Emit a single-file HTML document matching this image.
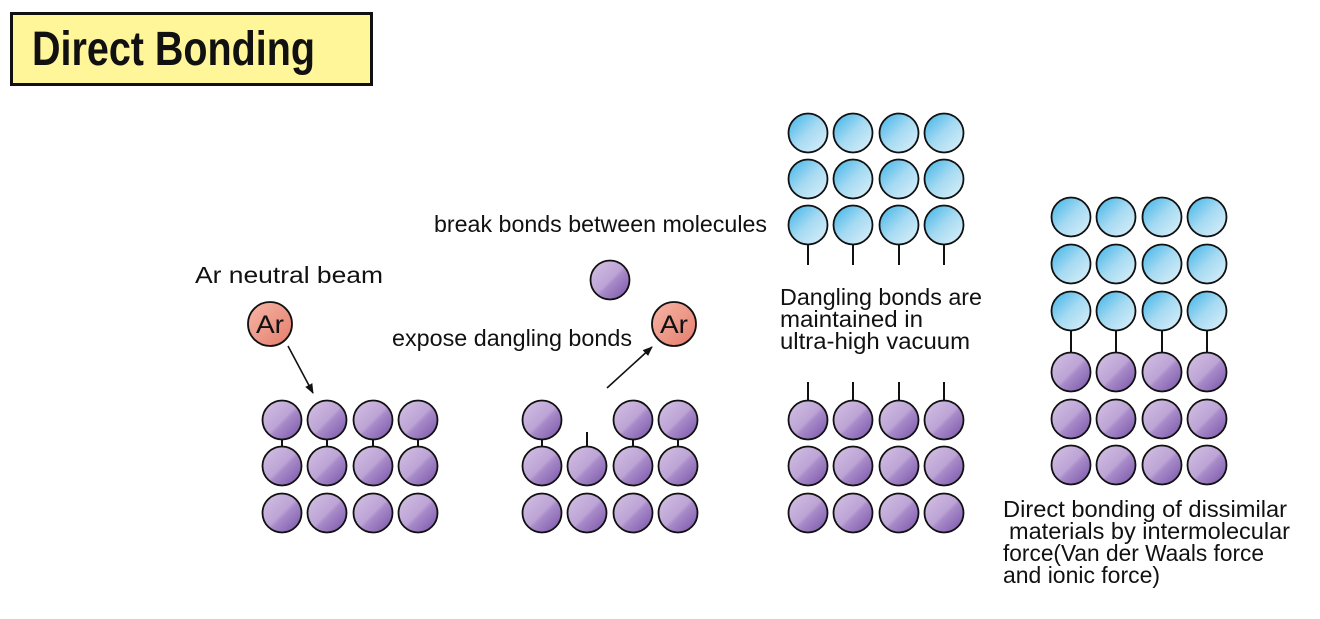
<!DOCTYPE html>
<html><head><meta charset="utf-8"><style>
html,body{margin:0;padding:0;background:#fff;width:1320px;height:619px;overflow:hidden}
svg{display:block}
text{font-family:"Liberation Sans",sans-serif;fill:#111}
</style></head><body>
<svg width="1320" height="619" viewBox="0 0 1320 619" xmlns="http://www.w3.org/2000/svg">
<defs>
<linearGradient id="pg" x1="0" y1="0" x2="1" y2="1">
<stop offset="0" stop-color="#d4c2e4"/><stop offset="0.5" stop-color="#bca3d5"/><stop offset="0.56" stop-color="#a88bc9"/><stop offset="1" stop-color="#7752a8"/>
</linearGradient>
<linearGradient id="bg" x1="0" y1="0" x2="1" y2="1">
<stop offset="0" stop-color="#3ab3e8"/><stop offset="0.5" stop-color="#a6daf2"/><stop offset="1" stop-color="#dff1fa"/>
</linearGradient>
<linearGradient id="rg" x1="0" y1="0" x2="1" y2="1">
<stop offset="0" stop-color="#f7b6a6"/><stop offset="1" stop-color="#e47d6d"/>
</linearGradient>
<g id="P"><circle r="19.5" fill="url(#pg)" stroke="#111" stroke-width="1.8"/></g>
<g id="B"><circle r="19.5" fill="url(#bg)" stroke="#111" stroke-width="1.8"/></g>
<marker id="ah" markerWidth="10" markerHeight="8" refX="9" refY="4" orient="auto" markerUnits="userSpaceOnUse"><path d="M0,0 L10,4 L0,8 z" fill="#111"/></marker>
</defs>
<rect x="11.5" y="13.5" width="360" height="71" fill="#fff599" stroke="#111" stroke-width="3"/>
<text x="32" y="65" font-size="48" font-weight="bold" textLength="283" lengthAdjust="spacingAndGlyphs">Direct Bonding</text>

<g stroke="#111" stroke-width="2">
<line x1="282" y1="440" x2="282" y2="446"/><line x1="327" y1="440" x2="327" y2="446"/><line x1="373" y1="440" x2="373" y2="446"/><line x1="418" y1="440" x2="418" y2="446"/>
<line x1="542" y1="440" x2="542" y2="446"/><line x1="587" y1="432" x2="587" y2="446"/><line x1="633" y1="440" x2="633" y2="446"/><line x1="678" y1="440" x2="678" y2="446"/>
<line x1="808" y1="245" x2="808" y2="265"/><line x1="853" y1="245" x2="853" y2="265"/><line x1="899" y1="245" x2="899" y2="265"/><line x1="944" y1="245" x2="944" y2="265"/>
<line x1="808" y1="382" x2="808" y2="400"/><line x1="853" y1="382" x2="853" y2="400"/><line x1="899" y1="382" x2="899" y2="400"/><line x1="944" y1="382" x2="944" y2="400"/>
<line x1="1071" y1="331" x2="1071" y2="352"/><line x1="1116" y1="331" x2="1116" y2="352"/><line x1="1162" y1="331" x2="1162" y2="352"/><line x1="1207" y1="331" x2="1207" y2="352"/>
</g>

<use href="#P" x="282" y="420"/><use href="#P" x="327" y="420"/><use href="#P" x="373" y="420"/><use href="#P" x="418" y="420"/>
<use href="#P" x="282" y="466"/><use href="#P" x="327" y="466"/><use href="#P" x="373" y="466"/><use href="#P" x="418" y="466"/>
<use href="#P" x="282" y="513"/><use href="#P" x="327" y="513"/><use href="#P" x="373" y="513"/><use href="#P" x="418" y="513"/>
<use href="#P" x="542" y="420"/><use href="#P" x="633" y="420"/><use href="#P" x="678" y="420"/>
<use href="#P" x="542" y="466"/><use href="#P" x="587" y="466"/><use href="#P" x="633" y="466"/><use href="#P" x="678" y="466"/>
<use href="#P" x="542" y="513"/><use href="#P" x="587" y="513"/><use href="#P" x="633" y="513"/><use href="#P" x="678" y="513"/>
<use href="#P" x="610" y="280"/>
<use href="#B" x="808" y="133"/><use href="#B" x="853" y="133"/><use href="#B" x="899" y="133"/><use href="#B" x="944" y="133"/>
<use href="#B" x="808" y="179"/><use href="#B" x="853" y="179"/><use href="#B" x="899" y="179"/><use href="#B" x="944" y="179"/>
<use href="#B" x="808" y="225"/><use href="#B" x="853" y="225"/><use href="#B" x="899" y="225"/><use href="#B" x="944" y="225"/>
<use href="#P" x="808" y="420"/><use href="#P" x="853" y="420"/><use href="#P" x="899" y="420"/><use href="#P" x="944" y="420"/>
<use href="#P" x="808" y="466"/><use href="#P" x="853" y="466"/><use href="#P" x="899" y="466"/><use href="#P" x="944" y="466"/>
<use href="#P" x="808" y="513"/><use href="#P" x="853" y="513"/><use href="#P" x="899" y="513"/><use href="#P" x="944" y="513"/>
<use href="#B" x="1071" y="217"/><use href="#B" x="1116" y="217"/><use href="#B" x="1162" y="217"/><use href="#B" x="1207" y="217"/>
<use href="#B" x="1071" y="264"/><use href="#B" x="1116" y="264"/><use href="#B" x="1162" y="264"/><use href="#B" x="1207" y="264"/>
<use href="#B" x="1071" y="311"/><use href="#B" x="1116" y="311"/><use href="#B" x="1162" y="311"/><use href="#B" x="1207" y="311"/>
<use href="#P" x="1071" y="372"/><use href="#P" x="1116" y="372"/><use href="#P" x="1162" y="372"/><use href="#P" x="1207" y="372"/>
<use href="#P" x="1071" y="419"/><use href="#P" x="1116" y="419"/><use href="#P" x="1162" y="419"/><use href="#P" x="1207" y="419"/>
<use href="#P" x="1071" y="465"/><use href="#P" x="1116" y="465"/><use href="#P" x="1162" y="465"/><use href="#P" x="1207" y="465"/>

<circle cx="270" cy="324" r="22" fill="url(#rg)" stroke="#111" stroke-width="1.8"/>
<text x="270" y="333" font-size="25" text-anchor="middle" textLength="28" lengthAdjust="spacingAndGlyphs">Ar</text>
<circle cx="674" cy="324" r="22" fill="url(#rg)" stroke="#111" stroke-width="1.8"/>
<text x="674" y="333" font-size="25" text-anchor="middle" textLength="28" lengthAdjust="spacingAndGlyphs">Ar</text>
<line x1="288" y1="346" x2="313" y2="393" stroke="#111" stroke-width="1.6" marker-end="url(#ah)"/>
<line x1="607" y1="388" x2="652" y2="347" stroke="#111" stroke-width="1.6" marker-end="url(#ah)"/>

<g font-size="23">
<text x="195" y="283" textLength="188" lengthAdjust="spacingAndGlyphs">Ar neutral beam</text>
<text x="434" y="232" textLength="333" lengthAdjust="spacingAndGlyphs">break bonds between molecules</text>
<text x="392" y="346" textLength="240" lengthAdjust="spacingAndGlyphs">expose dangling bonds</text>
<text x="780" y="305" textLength="202" lengthAdjust="spacingAndGlyphs">Dangling bonds are</text>
<text x="780" y="327" textLength="143" lengthAdjust="spacingAndGlyphs">maintained in</text>
<text x="780" y="349" textLength="190" lengthAdjust="spacingAndGlyphs">ultra-high vacuum</text>
<text x="1003" y="517" textLength="284" lengthAdjust="spacingAndGlyphs">Direct bonding of dissimilar</text>
<text x="1009" y="539" textLength="281" lengthAdjust="spacingAndGlyphs">materials by intermolecular</text>
<text x="1003" y="561" textLength="261" lengthAdjust="spacingAndGlyphs">force(Van der Waals force</text>
<text x="1003" y="583" textLength="157" lengthAdjust="spacingAndGlyphs">and ionic force)</text>
</g>
</svg>
</body></html>
